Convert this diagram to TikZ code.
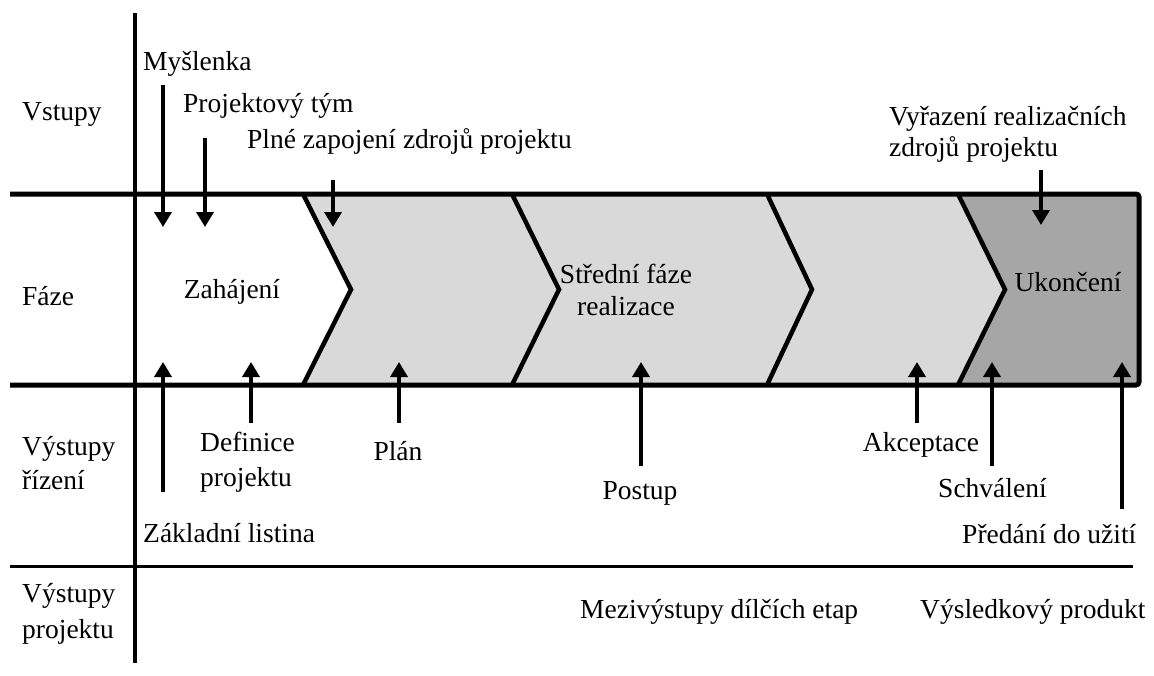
\documentclass[tikz,border=0pt]{standalone}
\usepackage{fontspec}
\setmainfont{Liberation Serif}
\usetikzlibrary{arrows.meta}
\definecolor{lightg}{HTML}{D9D9D9}
\definecolor{darkg}{HTML}{A6A6A6}
\begin{document}
\begin{tikzpicture}[x=1pt,y=-1pt,
  lbl/.style={inner sep=0pt,font=\fontsize{27.5}{32}\selectfont},
  lblw/.style={lbl,anchor=base west},
  arr/.style={line width=3.5pt,-{Triangle[width=17pt,length=15pt]}},
  edge/.style={line width=4.5pt,line join=miter},
  band/.style={line width=5pt,rounded corners=3pt}]
\useasboundingbox (0,0) rectangle (1154,675);
% fills
\fill[lightg] (303,194) -- (958,194) -- (1005,289.5) -- (958,385) -- (303,385) -- (351,289.5) -- cycle;
\fill[darkg] (958,194) -- (1139,194) -- (1139,385) -- (958,385) -- (1005,289.5) -- cycle;
% chevron edges
\draw[edge] (303,194) -- (351,289.5) -- (303,385);
\draw[edge] (512,194) -- (559,289.5) -- (512,385);
\draw[edge] (767,194) -- (812,289.5) -- (767,385);
\draw[edge] (958,194) -- (1005,289.5) -- (958,385);
% band lines
\draw[band] (10,194) -- (1139,194) -- (1139,385) -- (10,385);
% axis and separator
\draw[line width=4pt] (135,13) -- (135,663);
\draw[line width=3pt] (10,566) -- (1133,566);
% left column
\node[lblw] (vstupy) at (22,120) {Vstupy};
\node[lblw] (faze) at (22,305) {Fáze};
\node[lblw] (vr1) at (22,455) {Výstupy};
\node[lblw] (vr2) at (22,489) {řízení};
\node[lblw] (vp1) at (22,602) {Výstupy};
\node[lblw] (vp2) at (22,638) {projektu};
% phases
\node[lbl] (zah) at (232,292) {Zahájení};
\node[lbl,align=center] (stred) at (626,290) {Střední fáze\\realizace};
\node[lbl] (ukon) at (1068,282) {Ukončení};
% top labels
\node[lblw] (mys) at (143,70) {Myšlenka};
\node[lblw] (tym) at (183,112) {Projektový tým};
\node[lblw] (plne) at (247,148) {Plné zapojení zdrojů projektu};
\node[lblw] (vyr1) at (889,125) {Vyřazení realizačních};
\node[lblw] (vyr2) at (889,156) {zdrojů projektu};
% bottom labels
\node[lblw] (def1) at (200,451) {Definice};
\node[lblw] (def2) at (200,486) {projektu};
\node[lbl,anchor=base] (plan) at (398,460) {Plán};
\node[lblw] (zakl) at (143,542) {Základní listina};
\node[lbl,anchor=base] (postup) at (640,499) {Postup};
\node[lbl,anchor=base] (akc) at (921,451) {Akceptace};
\node[lblw] (schv) at (938,497) {Schválení};
\node[lblw] (pred) at (962,543) {Předání do užití};
\node[lblw] (mezi) at (580,618) {Mezivýstupy dílčích etap};
\node[lblw] (vysl) at (920,618) {Výsledkový produkt};
% arrow coordinates
\coordinate (m1) at (163,85);  \coordinate (m2) at (163,227);
\coordinate (t1) at (205,138); \coordinate (t2) at (205,227);
\coordinate (p1) at (333,180); \coordinate (p2) at (333,227);
\coordinate (v1) at (1041,170); \coordinate (v2) at (1041,225);
\coordinate (z1) at (163,492); \coordinate (z2) at (163,362);
\coordinate (d1) at (251,423); \coordinate (d2) at (251,362);
\coordinate (l1) at (399,423); \coordinate (l2) at (399,362);
\coordinate (o1) at (641,466); \coordinate (o2) at (641,362);
\coordinate (a1) at (917,423); \coordinate (a2) at (917,362);
\coordinate (s1) at (992,466); \coordinate (s2) at (992,362);
\coordinate (e1) at (1122,509); \coordinate (e2) at (1122,362);
\draw[arr] (m1) -- (m2);
\draw[arr] (t1) -- (t2);
\draw[arr] (p1) -- (p2);
\draw[arr] (v1) -- (v2);
\draw[arr] (z1) -- (z2);
\draw[arr] (d1) -- (d2);
\draw[arr] (l1) -- (l2);
\draw[arr] (o1) -- (o2);
\draw[arr] (a1) -- (a2);
\draw[arr] (s1) -- (s2);
\draw[arr] (e1) -- (e2);
\end{tikzpicture}
\end{document}
